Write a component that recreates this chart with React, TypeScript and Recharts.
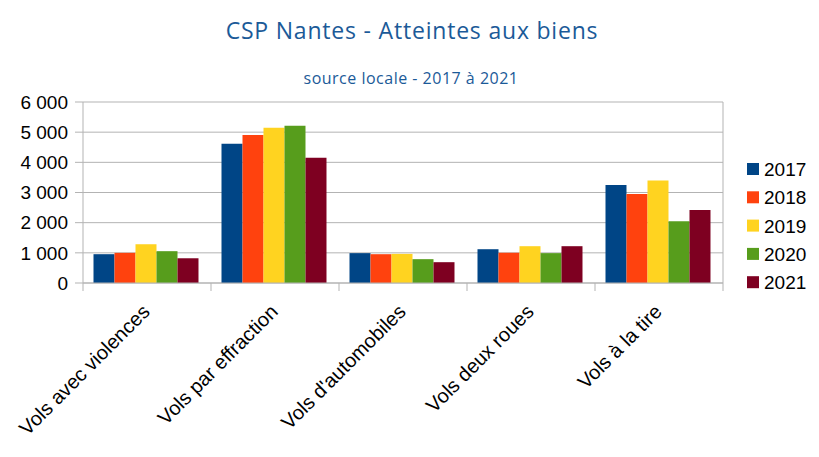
import React from 'react';
import { BarChart, Bar, XAxis, YAxis, CartesianGrid } from 'recharts';

// categories (x axis)
const categories = ['Vols avec violences', 'Vols par effraction', "Vols d'automobiles", 'Vols deux roues', 'Vols à la tire'];

// one list per year
const years = ['2017', '2018', '2019', '2020', '2021'];
const v2017 = [955, 4615, 990, 1120, 3250];
const v2018 = [1000, 4910, 955, 1000, 2950];
const v2019 = [1285, 5145, 965, 1220, 3395];
const v2020 = [1055, 5210, 790, 990, 2050];
const v2021 = [820, 4150, 690, 1220, 2420];
const colors = ['#004586', '#ff420e', '#ffd320', '#579d1c', '#7e0021'];

const yTicks = [0, 1000, 2000, 3000, 4000, 5000, 6000];

const series = [v2017, v2018, v2019, v2020, v2021];
const data = categories.map((name, i) => {
  const row: Record<string, string | number> = { name };
  years.forEach((y, k) => { row[y] = series[k][i]; });
  return row;
});

const W = 819;
const H = 457;
const LEFT = 83;
const RIGHT = 723;
const TOP = 102;
const BOTTOM = 283;
const band = (RIGHT - LEFT) / categories.length;
const grey = '#b3b3b3';
const axisFont = '"Liberation Sans", Arial, sans-serif';
const titleFont = '"Open Sans", sans-serif';
const titleColor = '#1b5a98';

const fmt = (v: number) => (v >= 1000 ? `${Math.floor(v / 1000)} ${String(v % 1000).padStart(3, '0')}` : String(v));

function CatTick(props: any) {
  const { x, y, payload, index } = props;
  const left = x - band / 2;
  const ax = x + 4;
  const ay = y + 22;
  return (
    <g>
      <line x1={left} y1={BOTTOM} x2={left} y2={BOTTOM + 8} stroke={grey} />
      {index === categories.length - 1 && (
        <line x1={left + band} y1={BOTTOM} x2={left + band} y2={BOTTOM + 8} stroke={grey} />
      )}
      <text
        x={ax}
        y={ay}
        textAnchor="end"
        transform={`rotate(-45 ${ax} ${ay})`}
        fontSize={20}
        fontFamily={axisFont}
        fill="#000"
      >
        {payload.value}
      </text>
    </g>
  );
}

export default function App() {
  return (
    <div style={{ position: 'absolute', left: 0, top: 0, width: W, height: H, background: '#fff' }}>
      <BarChart
        width={W}
        height={H}
        data={data}
        margin={{ top: TOP, right: W - RIGHT, left: 0, bottom: 0 }}
        barCategoryGap="8.2%"
        barGap={0}
      >
        <CartesianGrid stroke={grey} vertical={true} verticalPoints={[RIGHT]} />
        <XAxis
          dataKey="name"
          interval={0}
          height={H - BOTTOM}
          axisLine={{ stroke: grey }}
          tickLine={false}
          tick={<CatTick />}
        />
        <YAxis
          width={LEFT}
          domain={[0, 6000]}
          ticks={yTicks}
          tickFormatter={fmt}
          axisLine={{ stroke: grey }}
          tickLine={{ stroke: grey }}
          tickSize={8}
          tickMargin={7}
          tick={{ fontSize: 19, fontFamily: axisFont, fill: '#000' }}
        />
        {years.map((y, k) => (
          <Bar key={y} dataKey={y} fill={colors[k]} isAnimationActive={false} />
        ))}
      </BarChart>
      <svg width={W} height={H} style={{ position: 'absolute', left: 0, top: 0, pointerEvents: 'none' }}>
        <text x={412} y={39} textAnchor="middle" fontSize={23} letterSpacing={0.8} fontFamily={titleFont} fill={titleColor}>
          CSP Nantes - Atteintes aux biens
        </text>
        <text x={411} y={84} textAnchor="middle" fontSize={16} letterSpacing={0.5} fontFamily={titleFont} fill={titleColor}>
          source locale - 2017 à 2021
        </text>
        {years.map((y, k) => (
          <g key={y}>
            <rect x={747} y={163 + k * 28.3} width={12} height={12} fill={colors[k]} />
            <text x={764} y={176 + k * 28.3} fontSize={19} fontFamily={axisFont} fill="#000">
              {y}
            </text>
          </g>
        ))}
      </svg>
    </div>
  );
}
